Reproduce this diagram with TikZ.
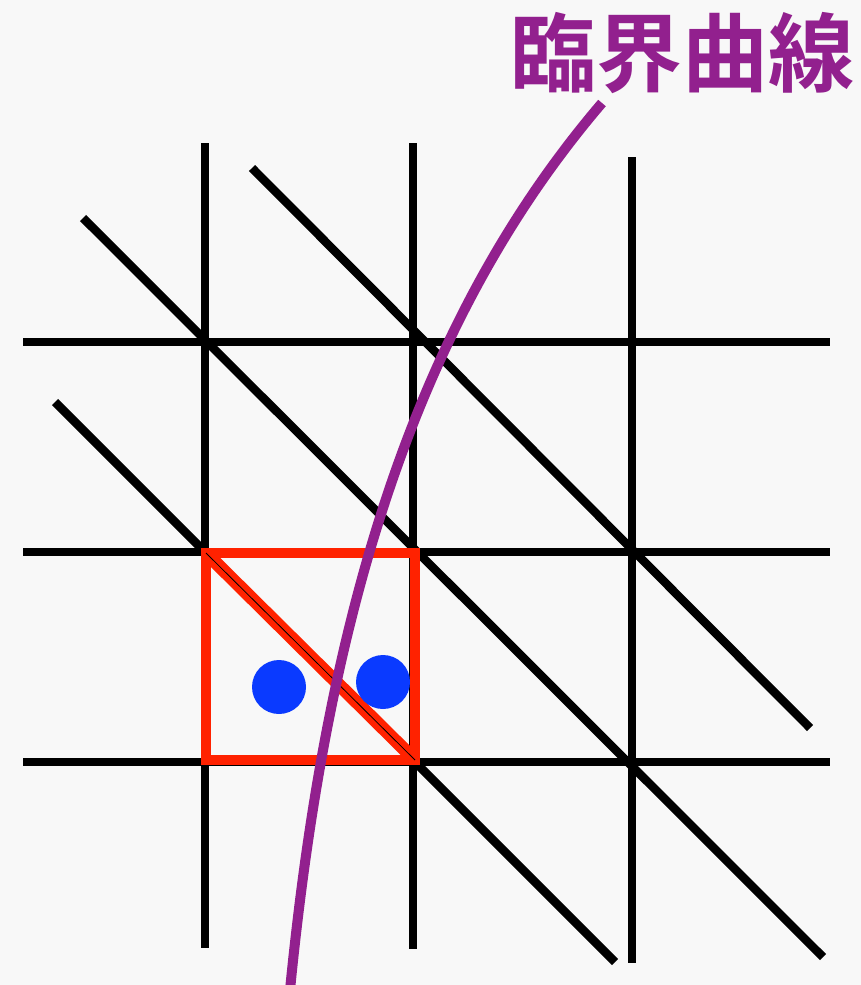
\documentclass[tikz,border=0pt]{standalone}
\usepackage{fontspec}
\newfontfamily\cjk{Noto Sans CJK JP}[BoldFont={Noto Sans CJK JP Bold}]
\usepackage{xcolor}
\definecolor{paper}{RGB}{248,248,248}
\definecolor{curvepurple}{RGB}{146,32,142}
\definecolor{cellred}{RGB}{255,34,0}
\definecolor{pointblue}{RGB}{10,58,255}

\begin{document}
\begin{tikzpicture}[
  x=1pt,
  y=-1pt,
  gridline/.style={
    draw=black,
    line width=8.5pt
  },
  cell/.style={
    draw=cellred,
    line width=9.5pt,
    line join=miter
  },
  point/.style={
    circle,
    fill=pointblue,
    inner sep=0pt,
    minimum size=54pt
  },
  critical/.style={
    draw=curvepurple,
    line width=10pt
  },
  curvelabel/.style={
    font=\cjk\bfseries\fontsize{86}{86}\selectfont,
    text=curvepurple,
    inner sep=0pt
  }
]

\fill[paper] (0,0) rectangle (861,985);
\useasboundingbox (0,0) rectangle (861,985);

% grid ends
\coordinate (v1top) at (205,143);
\coordinate (v1bot) at (205,948);
\coordinate (v2top) at (413,143);
\coordinate (v2bot) at (413,949);
\coordinate (v3top) at (632,157);
\coordinate (v3bot) at (632,963);
\coordinate (h1left) at (23,342);
\coordinate (h1right) at (830,342);
\coordinate (h2left) at (23,552);
\coordinate (h2right) at (830,552);
\coordinate (h3left) at (23,762);
\coordinate (h3right) at (830,762);
\coordinate (d1top) at (252,168);
\coordinate (d1bot) at (810,728);
\coordinate (d2top) at (83,218);
\coordinate (d2bot) at (823,957);
\coordinate (d3top) at (55,402);
\coordinate (d3bot) at (615,962);

\draw[gridline] (v1top) -- (v1bot);
\draw[gridline] (v2top) -- (v2bot);
\draw[gridline] (v3top) -- (v3bot);
\draw[gridline] (h1left) -- (h1right);
\draw[gridline] (h2left) -- (h2right);
\draw[gridline] (h3left) -- (h3right);
\draw[gridline] (d1top) -- (d1bot);
\draw[gridline] (d2top) -- (d2bot);
\draw[gridline] (d3top) -- (d3bot);

% the cell
\coordinate (cellnw) at (206,553);
\coordinate (cellse) at (415,760);
\draw[cell] (cellnw) rectangle (cellse);
\draw[cell, line width=13pt] (cellnw) -- (cellse);
\draw[black, line width=0.8pt] (cellnw) -- (cellse);

\node[point] (left) at (279,687) {};
\node[point] (right) at (383,682) {};

% critical curve
\coordinate (critbot) at (290,990);
\coordinate (crittop) at (602,103);
\draw[critical] (critbot) .. controls (325,635) and (407,331) .. (crittop);

\node[curvelabel] (label) at (682,53) {臨界曲線};

\end{tikzpicture}
\end{document}
